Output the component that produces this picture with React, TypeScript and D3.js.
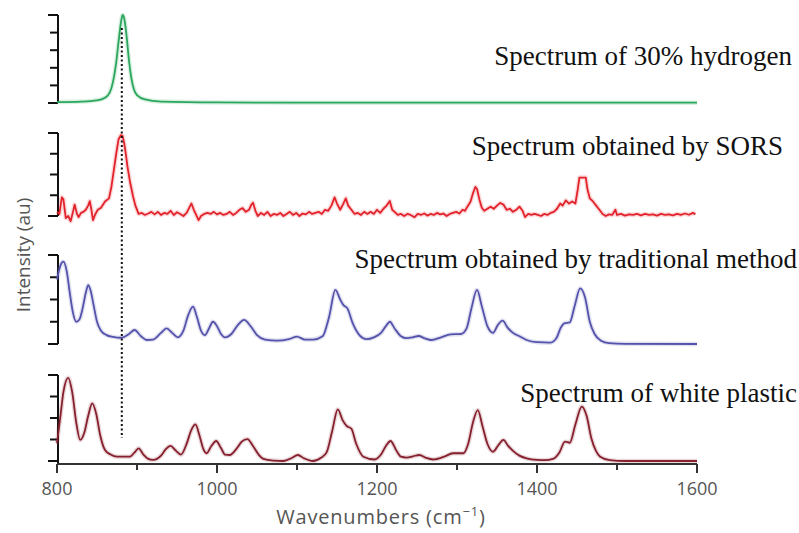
import React from 'react';
import * as d3 from 'd3';

// ---- data (wavenumber cm^-1, intensity in tick units) ----
const hydrogen: [number, number][] = [
  [800, 0.05], [830, 0.08], [850, 0.15], [860, 0.3], [866, 0.6], [870, 1.2], [874, 2.3],
  [877, 3.5], [880, 4.6], [882, 5.0], [884, 4.8], [887, 3.8], [890, 2.4], [893, 1.4],
  [896, 0.8], [900, 0.45], [910, 0.2], [930, 0.08], [1000, 0.03], [1100, 0.02],
  [1300, 0.02], [1600, 0.02],
];

const sors: [number, number][] = [
  [800, 0.2], [803, 0.1], [806, 0.9], [808, 0.8], [811, -0.1], [814, 0.0], [817, -0.25],
  [820, 0.2], [822, 0.55], [825, 0.1], [827, -0.05], [830, 0.15], [833, 0.2], [836, 0.3],
  [839, 0.5], [841, 0.72], [843, 0.3], [845, -0.2], [848, 0.1], [851, 0.3], [855, 0.4],
  [860, 0.7], [865, 0.85], [868, 1.4], [871, 2.2], [874, 3.0], [877, 3.7], [880, 3.9],
  [882, 3.85], [884, 3.5], [886, 3.0], [888, 2.4], [891, 1.7], [895, 0.95], [898, 0.5],
  [902, 0.1], [906, 0.15], [910, 0.05], [914, 0.12], [918, 0.2], [922, 0.08], [926, 0.2],
  [930, 0.05], [934, 0.15], [938, 0.1], [942, 0.25], [946, 0.05], [950, 0.18], [954, 0.1],
  [958, 0.0], [962, 0.15], [966, 0.45], [968, 0.6], [971, 0.3], [974, 0.05], [977, -0.2],
  [980, 0.0], [984, 0.1], [988, 0.15], [992, 0.1], [996, 0.2], [1000, 0.08], [1004, 0.15],
  [1008, 0.05], [1012, 0.1], [1016, 0.2], [1020, 0.05], [1024, 0.15], [1028, 0.3],
  [1032, 0.38], [1036, 0.2], [1040, 0.3], [1043, 0.55], [1045, 0.64], [1048, 0.25],
  [1051, 0.0], [1055, 0.15], [1059, 0.05], [1063, 0.2], [1067, 0.0], [1071, 0.1],
  [1075, 0.05], [1079, 0.15], [1083, 0.0], [1087, 0.1], [1091, 0.2], [1095, 0.05],
  [1099, 0.15], [1103, 0.0], [1107, 0.12], [1111, 0.08], [1115, 0.2], [1119, 0.1],
  [1123, 0.15], [1127, 0.2], [1131, 0.1], [1135, 0.3], [1139, 0.25], [1143, 0.5],
  [1147, 0.9], [1150, 0.6], [1154, 0.3], [1158, 0.6], [1161, 0.85], [1164, 0.5],
  [1168, 0.3], [1172, 0.1], [1176, 0.15], [1180, 0.05], [1184, 0.2], [1188, 0.1],
  [1192, 0.2], [1196, 0.1], [1200, 0.3], [1204, 0.15], [1208, 0.35], [1212, 0.5],
  [1216, 0.72], [1219, 0.3], [1222, 0.2], [1226, 0.05], [1230, 0.1], [1234, 0.0],
  [1238, 0.1], [1242, 0.05], [1247, -0.06], [1251, 0.1], [1255, 0.05], [1259, 0.12],
  [1263, 0.02], [1267, 0.1], [1271, 0.05], [1275, 0.15], [1279, 0.08], [1283, 0.12],
  [1287, 0.0], [1291, 0.1], [1295, 0.15], [1299, 0.2], [1303, 0.12], [1307, 0.3],
  [1310, 0.25], [1313, 0.45], [1317, 0.7], [1320, 1.1], [1323, 1.4], [1325, 1.3],
  [1328, 0.8], [1331, 0.4], [1334, 0.25], [1338, 0.35], [1342, 0.45], [1346, 0.35],
  [1350, 0.5], [1354, 0.63], [1358, 0.55], [1362, 0.3], [1366, 0.35], [1370, 0.2],
  [1374, 0.3], [1378, 0.45], [1382, 0.25], [1385, -0.05], [1389, 0.1], [1393, 0.05],
  [1397, 0.1], [1401, 0.05], [1405, 0.0], [1409, 0.1], [1413, 0.05], [1417, 0.15],
  [1421, 0.2], [1425, 0.35], [1429, 0.6], [1432, 0.5], [1436, 0.75], [1440, 0.6],
  [1444, 0.7], [1448, 0.6], [1451, 1.3], [1453, 1.85], [1457, 1.85], [1461, 1.85],
  [1463, 1.3], [1466, 0.85], [1470, 0.7], [1474, 0.5], [1478, 0.3], [1482, 0.1],
  [1486, 0.0], [1490, 0.08], [1494, 0.05], [1498, 0.3], [1500, 0.05], [1505, 0.1],
  [1510, 0.02], [1515, 0.08], [1520, 0.05], [1525, 0.1], [1530, 0.03], [1535, 0.1],
  [1540, 0.05], [1545, 0.08], [1550, 0.02], [1555, 0.1], [1560, 0.05], [1565, 0.08],
  [1570, 0.03], [1575, 0.1], [1580, 0.05], [1585, 0.12], [1590, 0.06], [1595, 0.15],
  [1598, 0.08],
];

const traditional: [number, number][] = [
  [800, 2.9], [804, 3.5], [808, 3.7], [812, 3.3], [816, 2.3], [820, 1.4], [824, 1.0],
  [828, 1.1], [832, 1.6], [836, 2.3], [839, 2.65], [842, 2.4], [846, 1.7], [850, 1.0],
  [855, 0.6], [862, 0.4], [870, 0.32], [880, 0.28], [890, 0.45], [897, 0.63], [905, 0.35],
  [912, 0.18], [920, 0.2], [930, 0.5], [937, 0.7], [944, 0.5], [951, 0.3], [958, 0.6],
  [964, 1.3], [970, 1.68], [975, 1.2], [980, 0.6], [985, 0.4], [990, 0.7], [995, 1.0],
  [1000, 0.8], [1005, 0.45], [1010, 0.3], [1018, 0.45], [1026, 0.85], [1034, 1.08],
  [1042, 0.8], [1050, 0.4], [1060, 0.2], [1075, 0.15], [1090, 0.22], [1100, 0.33],
  [1110, 0.2], [1120, 0.2], [1132, 0.35], [1140, 1.2], [1148, 2.43], [1154, 2.0],
  [1158, 1.75], [1163, 1.6], [1170, 0.9], [1178, 0.4], [1187, 0.22], [1196, 0.3],
  [1205, 0.5], [1212, 0.85], [1216, 1.0], [1222, 0.7], [1230, 0.35], [1237, 0.26],
  [1245, 0.3], [1252, 0.36], [1260, 0.25], [1268, 0.18], [1280, 0.3], [1292, 0.43],
  [1305, 0.45], [1312, 0.7], [1318, 1.6], [1325, 2.43], [1331, 1.7], [1338, 0.8],
  [1345, 0.5], [1351, 0.85], [1357, 1.05], [1363, 0.75], [1370, 0.5], [1378, 0.35],
  [1387, 0.18], [1400, 0.08], [1416, 0.06], [1424, 0.25], [1430, 0.75], [1434, 0.93],
  [1441, 0.97], [1447, 1.7], [1454, 2.5], [1460, 2.1], [1466, 1.0], [1472, 0.45],
  [1480, 0.15], [1490, 0.04], [1510, 0.01], [1600, 0.0],
];

const plastic: [number, number][] = [
  [800, 0.82], [804, 2.0], [808, 3.2], [814, 3.87], [819, 3.2], [824, 1.8], [829, 0.98],
  [834, 1.3], [839, 2.1], [844, 2.68], [849, 2.2], [854, 1.2], [860, 0.51], [867, 0.3],
  [875, 0.2], [891, 0.2], [897, 0.4], [902, 0.59], [908, 0.3], [914, 0.1], [920, 0.05],
  [930, 0.25], [936, 0.55], [942, 0.7], [948, 0.5], [955, 0.3], [962, 0.8], [968, 1.45],
  [973, 1.7], [978, 1.2], [983, 0.55], [987, 0.36], [993, 0.7], [999, 0.93], [1005, 0.6],
  [1010, 0.3], [1016, 0.28], [1024, 0.55], [1031, 0.9], [1038, 1.02], [1045, 0.7],
  [1052, 0.3], [1058, 0.1], [1070, 0.02], [1083, 0.0], [1094, 0.15], [1101, 0.28],
  [1109, 0.12], [1120, 0.0], [1130, 0.15], [1137, 0.4], [1144, 1.4], [1151, 2.4],
  [1157, 1.9], [1162, 1.63], [1168, 1.5], [1174, 0.8], [1183, 0.2], [1197, 0.07],
  [1205, 0.3], [1212, 0.75], [1217, 0.93], [1224, 0.5], [1230, 0.2], [1237, 0.16],
  [1245, 0.22], [1253, 0.28], [1261, 0.15], [1270, 0.07], [1284, 0.2], [1295, 0.36],
  [1308, 0.36], [1314, 0.8], [1320, 1.8], [1326, 2.37], [1332, 1.6], [1338, 0.8],
  [1345, 0.43], [1352, 0.75], [1358, 0.98], [1364, 0.7], [1370, 0.47], [1378, 0.25],
  [1387, 0.12], [1400, 0.05], [1410, 0.04], [1420, 0.1], [1428, 0.4], [1435, 0.9],
  [1441, 0.85], [1448, 1.7], [1456, 2.53], [1462, 2.1], [1468, 1.05], [1474, 0.45],
  [1479, 0.2], [1491, 0.04], [1510, 0.0], [1600, 0.0],
];

const xTicks = [800, 900, 1000, 1100, 1200, 1300, 1400, 1500, 1600];
const xLabels = [800, 1000, 1200, 1400, 1600];
const markerWavenumber = 881;

const titles = [
  'Spectrum of 30% hydrogen',
  'Spectrum obtained by SORS',
  'Spectrum obtained by traditional method',
  'Spectrum of white plastic',
];

const panels = [
  { data: hydrogen, color: '#2aa75c', top: 15, bottom: 103, steps: 5, curve: d3.curveMonotoneX, titleX: 792, titleY: 65 },
  { data: sors, color: '#e3232b', top: 133, bottom: 216, steps: 4, curve: d3.curveLinear, titleX: 783, titleY: 155 },
  { data: traditional, color: '#5552ab', top: 255, bottom: 344, steps: 4, curve: d3.curveMonotoneX, titleX: 797, titleY: 268 },
  { data: plastic, color: '#86202e', top: 375, bottom: 461, steps: 4, curve: d3.curveMonotoneX, titleX: 797, titleY: 402 },
];

const W = 799;
const H = 533;
const axisX = 58;
const baseY = 464;
const sans = "'Open Sans', sans-serif";

export default function App() {
  const x = d3.scaleLinear().domain([800, 1600]).range([57, 697]);

  return (
    <svg width={W} height={H} style={{ position: 'absolute', left: 0, top: 0, background: '#fff' }}>
      {panels.map((p, i) => {
        const y = d3.scaleLinear().domain([0, p.steps]).range([p.bottom, p.top]);
        const line = d3.line<[number, number]>()
          .x(d => x(d[0]))
          .y(d => y(d[1]))
          .curve(p.curve);
        const path = line(p.data) || '';
        const ticks = d3.range(0, p.steps + 1);
        return (
          <g key={i}>
            <line x1={axisX} x2={axisX} y1={p.top} y2={i === 3 ? baseY : p.bottom} stroke="#111" strokeWidth={2} />
            {ticks.map(t => (
              <line key={t} x1={axisX - (t === 0 || t === p.steps ? 10 : 8)} x2={axisX}
                y1={y(t)} y2={y(t)} stroke="#111" strokeWidth={2} />
            ))}
            <path d={path} fill="none" stroke={p.color} strokeOpacity={0.18} strokeWidth={4.5} strokeLinejoin="round" />
            <path d={path} fill="none" stroke={p.color} strokeWidth={1.8} strokeLinejoin="round" />
            <text x={p.titleX} y={p.titleY} textAnchor="end"
              fontFamily="'Liberation Serif', 'Times New Roman', serif" fontSize={27} fill="#111">
              {titles[i]}
            </text>
          </g>
        );
      })}

      {/* dotted marker through the hydrogen peak */}
      <line x1={x(markerWavenumber)} x2={x(markerWavenumber)} y1={28} y2={438}
        stroke="#111" strokeWidth={2} strokeDasharray="2 2.5" />

      {/* bottom wavenumber axis */}
      <line x1={x(800)} x2={x(1600)} y1={baseY} y2={baseY} stroke="#333" strokeWidth={2} />
      {xTicks.map(t => (
        <line key={t} x1={x(t)} x2={x(t)} y1={baseY} y2={baseY + (xLabels.includes(t) ? 9 : 6)}
          stroke="#333" strokeWidth={2} />
      ))}
      {xLabels.map(t => (
        <text key={t} x={x(t)} y={495} textAnchor="middle" fontFamily={sans}
          fontSize={18} fill="#555">{t}</text>
      ))}
      <text x={381} y={524} textAnchor="middle" fontFamily={sans} fontSize={20} fill="#555"
        letterSpacing={0.8}>
        Wavenumbers (cm<tspan dy={-8} fontSize={13}>−1</tspan><tspan dy={8}>)</tspan>
      </text>
      <text transform="translate(30,255) rotate(-90)" textAnchor="middle" fontFamily={sans}
        fontSize={19} fill="#555">Intensity (au)</text>
    </svg>
  );
}
